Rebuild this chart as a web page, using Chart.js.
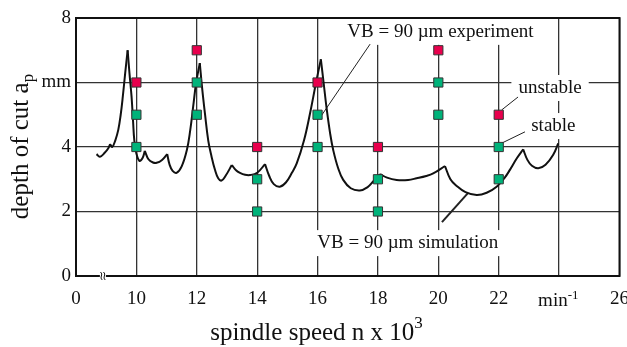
<!DOCTYPE html>
<html>
<head>
<meta charset="utf-8">
<script src="https://cdn.jsdelivr.net/npm/chart.js@4.4.0/dist/chart.umd.min.js"></script>
<style>
  body { margin: 0; background: #fff; }
</style>
</head>
<body>
<canvas id="chart" width="627" height="347"></canvas>
<script>
// simulated stability limit (x = speed in 1000 min^-1, y = depth in mm)
const curveX = [8.68, 8.79, 8.95, 9.07, 9.13, 9.2, 9.3, 9.4, 9.48, 9.55, 9.63, 9.71, 9.77, 9.84, 9.89, 9.93, 10.0, 10.1, 10.2, 10.28,
  10.4, 10.55, 10.67, 10.85, 11.02, 11.1, 11.2, 11.33, 11.5, 11.67, 11.78, 11.88, 11.98, 12.1, 12.18, 12.27, 12.38, 12.49, 12.6, 12.71,
  12.82, 12.95, 13.16, 13.3, 13.43, 13.6, 13.76, 14.0, 14.26, 14.4, 14.55, 14.75, 14.95, 15.15, 15.31, 15.55, 15.75, 15.95, 16.11,
  16.2, 16.3, 16.42, 16.52, 16.68, 16.85, 17.1, 17.4, 17.65, 17.84, 18.07, 18.3, 18.62, 19.0, 19.28, 19.6, 19.83, 20.22,
  20.4, 20.6, 20.9, 21.27, 21.6, 21.93, 22.2, 22.37, 22.6, 22.81, 22.95, 23.1, 23.31, 23.55, 23.8, 23.97];
const curveY = [3.78, 3.70, 3.82, 3.96, 4.09, 4.0, 4.2, 4.53, 5.0, 5.56, 6.3, 7.0, 6.3, 5.56, 4.8, 4.22, 3.8, 3.57, 3.65, 3.88,
  3.62, 3.52, 3.51, 3.6, 3.78, 3.45, 3.26, 3.2, 3.4, 3.9, 4.5, 5.25, 6.0, 6.6, 5.8, 5.04, 4.2, 3.7, 3.3, 3.03,
  2.96, 3.1, 3.44, 3.28, 3.2, 3.14, 3.13, 3.2, 3.47, 3.1, 2.85, 2.77, 2.9, 3.2, 3.49, 4.2, 5.04, 6.0, 6.72,
  6.0, 5.2, 4.4, 3.9, 3.35, 2.98, 2.72, 2.65, 2.75, 2.93, 3.16, 3.05, 2.98, 2.98, 3.03, 3.1, 3.18, 3.41,
  3.0, 2.8, 2.6, 2.51, 2.58, 2.77, 3.05, 3.29, 3.65, 3.93, 3.6, 3.42, 3.34, 3.45, 3.75, 4.11];
// lobe intersections (sharp corners of the curve)
const cuspX = [9.13, 9.71, 10.28, 11.02, 12.1, 13.16, 14.26, 16.11, 18.07, 20.22, 22.81];

// experiment points
const unstableX = [10, 12, 14, 16, 18, 20, 22];
const unstableY = [6, 7, 4, 6, 4, 7, 5];
const stableX = [10, 10, 12, 12, 14, 14, 16, 16, 18, 18, 20, 20, 22, 22];
const stableY = [5, 4, 6, 5, 3, 2, 5, 4, 3, 2, 6, 5, 4, 3];

// axis
const xMin = 8, xMax = 26, yMin = 0, yMax = 8;

// labels on the plot
const noteText = ['VB = 90 \u00b5m experiment', 'unstable', 'stable', 'VB = 90 \u00b5m simulation'];
const noteX = [20.07, 23.70, 23.81, 18.99];
const noteY = [7.57, 5.83, 4.65, 1.02];
const leaderFrom = [[17.74, 7.19], [22.64, 5.55], [22.87, 4.47], [20.12, 1.67]];
const leaderTo = [[16.14, 4.99], [22.1, 5.15], [22.1, 4.12], [20.98, 2.57]];

const serif = '"Liberation Serif", "Times New Roman", serif';

// split the curve into lobes so the corners stay sharp
const lobes = [];
let cur = [];
curveX.forEach(function (x, i) {
  cur.push({ x: x, y: curveY[i] });
  if (cuspX.indexOf(x) !== -1) {
    lobes.push(cur);
    cur = [{ x: x, y: curveY[i] }];
  }
});
lobes.push(cur);

const datasets = [
  {
    data: unstableX.map((x, i) => ({ x: x, y: unstableY[i] })),
    showLine: false,
    pointStyle: 'rect',
    pointRadius: 6.5,
    backgroundColor: '#e8004d',
    borderColor: '#333',
    borderWidth: 1,
  },
  {
    data: stableX.map((x, i) => ({ x: x, y: stableY[i] })),
    showLine: false,
    pointStyle: 'rect',
    pointRadius: 6.5,
    backgroundColor: '#00b37a',
    borderColor: '#333',
    borderWidth: 1,
  },
];
lobes.forEach(function (l) {
  datasets.push({
    data: l,
    showLine: true,
    borderColor: '#111',
    borderWidth: 2,
    pointRadius: 0,
    tension: 0.4,
    fill: false,
  });
});

const px = (c, v) => c.scales.x.getPixelForValue(v);
const py = (c, v) => c.scales.y.getPixelForValue(v);

const extras = {
  id: 'extras',
  beforeDraw(c) {
    const ctx = c.ctx;
    ctx.save();
    ctx.fillStyle = '#fff';
    ctx.fillRect(0, 0, c.width, c.height);
    ctx.restore();
  },
  beforeDatasetsDraw(c) {
    const ctx = c.ctx;
    ctx.save();
    ctx.font = '19px ' + serif;
    ctx.textAlign = 'center';
    ctx.textBaseline = 'middle';
    noteText.forEach(function (t, i) {
      const x = px(c, noteX[i]), y = py(c, noteY[i]);
      const w = ctx.measureText(t).width + 14;
      ctx.fillStyle = '#fff';
      ctx.fillRect(x - w / 2, y - 13, w, 26);
    });
    ctx.strokeStyle = '#222';
    leaderFrom.forEach(function (p, i) {
      ctx.lineWidth = i === 3 ? 2 : 1;
      ctx.beginPath();
      ctx.moveTo(px(c, p[0]), py(c, p[1]));
      ctx.lineTo(px(c, leaderTo[i][0]), py(c, leaderTo[i][1]));
      ctx.stroke();
    });
    ctx.fillStyle = '#111';
    noteText.forEach(function (t, i) {
      ctx.fillText(t, px(c, noteX[i]), py(c, noteY[i]));
    });
    ctx.restore();
  },
  afterDraw(c) {
    const ctx = c.ctx;
    const a = c.chartArea;
    ctx.save();
    // frame
    ctx.strokeStyle = '#111';
    ctx.lineWidth = 2;
    ctx.strokeRect(a.left, a.top, a.right - a.left, a.bottom - a.top);

    // axis break mark
    const bx = px(c, 8.89), by = a.bottom;
    ctx.fillStyle = '#fff';
    ctx.fillRect(bx - 3, by - 2, 6, 4);
    ctx.lineWidth = 1;
    [-1.5, 1.5].forEach(function (d) {
      ctx.beginPath();
      ctx.moveTo(bx + d - 1, by - 4);
      ctx.bezierCurveTo(bx + d + 2.5, by - 1.5, bx + d - 2.5, by + 1.5, bx + d + 1, by + 4);
      ctx.stroke();
    });

    ctx.fillStyle = '#111';
    ctx.textAlign = 'left';
    ctx.textBaseline = 'alphabetic';

    // min^-1 unit at the 24 tick
    const mx = px(c, 24);
    ctx.font = '19px ' + serif;
    const mw = ctx.measureText('min').width;
    ctx.fillText('min', mx - 21, 306);
    ctx.font = '13px ' + serif;
    ctx.fillText('-1', mx - 21 + mw, 299);

    // x title
    ctx.font = '25px ' + serif;
    const xt = 'spindle speed n x 10';
    const xw = ctx.measureText(xt).width;
    ctx.font = '17px ' + serif;
    const xs = ctx.measureText('3').width;
    const x0 = 316.5 - (xw + xs) / 2;
    ctx.font = '25px ' + serif;
    ctx.fillText(xt, x0, 340);
    ctx.font = '17px ' + serif;
    ctx.fillText('3', x0 + xw, 328);

    // y title
    ctx.translate(28, 146.5);
    ctx.rotate(-Math.PI / 2);
    ctx.font = '25px ' + serif;
    const yt = 'depth of cut a';
    const yw = ctx.measureText(yt).width;
    ctx.font = '17px ' + serif;
    const ys = ctx.measureText('p').width;
    const y0 = -(yw + ys) / 2;
    ctx.font = '25px ' + serif;
    ctx.fillText(yt, y0, 0);
    ctx.font = '17px ' + serif;
    ctx.fillText('p', y0 + yw, 5);
    ctx.restore();
  },
};

new Chart(document.getElementById('chart'), {
  type: 'scatter',
  data: { datasets: datasets },
  plugins: [extras],
  options: {
    responsive: false,
    devicePixelRatio: 1,
    animation: false,
    layout: { padding: { left: 0, right: 7, top: 18, bottom: 0 } },
    plugins: { legend: { display: false }, tooltip: { enabled: false } },
    scales: {
      x: {
        type: 'linear',
        min: xMin,
        max: xMax,
        afterFit: function (s) {
          s.height = 71;
          s.paddingLeft = 0;
          s.paddingRight = 0;
        },
        ticks: {
          stepSize: 2,
          color: '#111',
          padding: 12,
          font: { family: serif, size: 19 },
          callback: function (v) {
            if (v === 8) return '0';
            if (v === 24) return '';
            return v;
          },
        },
        grid: { color: '#333', lineWidth: 1.3, drawTicks: false },
        border: { display: false },
      },
      y: {
        min: yMin,
        max: yMax,
        afterFit: function (s) {
          s.width = 76;
          s.paddingTop = 0;
          s.paddingBottom = 0;
        },
        ticks: {
          stepSize: 2,
          color: '#111',
          padding: 5,
          font: { family: serif, size: 19 },
          callback: function (v) { return v === 6 ? 'mm' : v; },
        },
        grid: { color: '#333', lineWidth: 1.3, drawTicks: false },
        border: { display: false },
      },
    },
  },
});
</script>
</body>
</html>
